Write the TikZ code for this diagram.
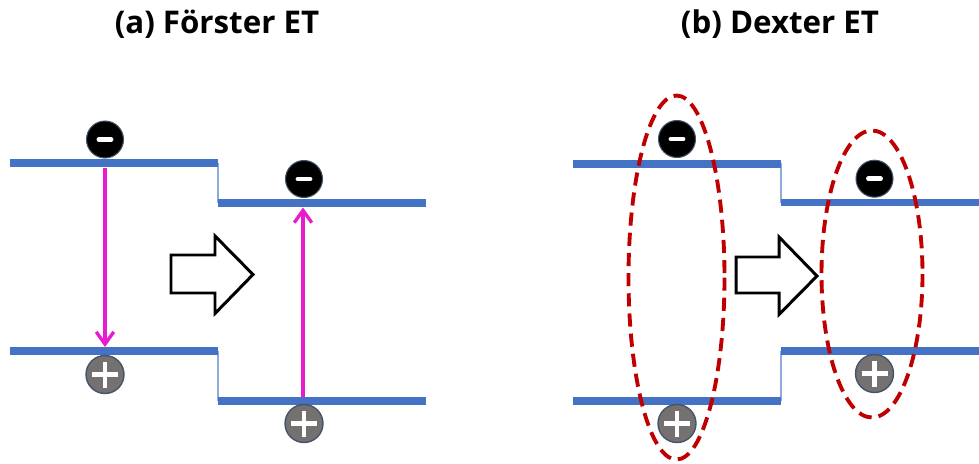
\documentclass[tikz,border=0pt]{standalone}
\usepackage{fontspec}
\setmainfont{Carlito}
\newfontfamily\headfont{Open Sans}
\usetikzlibrary{arrows.meta}
\definecolor{levelblue}{HTML}{4472C4}
\definecolor{steplight}{HTML}{8FAADC}
\definecolor{transmag}{HTML}{E81CCF}
\definecolor{pairred}{HTML}{C00000}
\definecolor{holegray}{HTML}{767171}
\definecolor{rimblue}{HTML}{44546A}
\tikzset{
  level/.style={levelblue, line width=4.5pt},
  stepline/.style={steplight, line width=0.6pt},
  electron/.style={circle, fill=black, draw=rimblue, line width=0.6pt,
    minimum size=0.74cm, inner sep=0pt,
    path picture={\draw[white, line width=2.8pt, line cap=round]
      ([xshift=-0.12cm]path picture bounding box.center) --
      ([xshift=0.12cm]path picture bounding box.center);}},
  hole/.style={circle, fill=holegray, draw=rimblue, line width=0.8pt,
    minimum size=0.76cm, inner sep=0pt,
    path picture={\draw[white, line width=2.3pt]
      ([xshift=-0.26cm]path picture bounding box.center) --
      ([xshift=0.26cm]path picture bounding box.center)
      ([yshift=-0.26cm]path picture bounding box.center) --
      ([yshift=0.26cm]path picture bounding box.center);}},
  transfer/.style={transmag, line width=1.9pt,
    -{Straight Barb[length=7pt, width=10pt, line width=1.9pt]}},
  blockarrow/.style={draw=black, fill=white, line width=1.7pt, line join=miter},
  pair/.style={draw=pairred, line width=2.2pt, dash pattern=on 7.5pt off 4pt},
  title/.style={font=\headfont\bfseries\fontsize{17.8}{21}\selectfont,
    inner sep=0pt, anchor=base}
}
\begin{document}
\begin{tikzpicture}[x=0.02cm, y=-0.02cm]
\useasboundingbox (0,0) rectangle (979,463);

% titles
\node[title] (ta) at (217,33) {(a) Förster ET};
\node[title] (tb) at (780,33) {(b) Dexter ET};

% ---------- (a) Foerster transfer ----------
\draw[stepline] (218,163) -- (218,203);
\draw[stepline] (218,351) -- (218,401);
\draw[level] (10,163.3) -- (218,163.3);
\draw[level] (218,203.3) -- (426,203.3);
\draw[level] (10,351.3) -- (218,351.3);
\draw[level] (218,401.3) -- (426,401.3);

\coordinate (a1top) at (105,167.5);
\coordinate (a1bot) at (105,347);
\coordinate (a2bot) at (303,396.5);
\coordinate (a2top) at (303,207.5);
\draw[transfer] (a1top) -- (a1bot);
\draw[transfer] (a2bot) -- (a2top);

\node[electron] (ea1) at (105,139.5) {};
\node[hole]     (ha1) at (105,374.5) {};
\node[electron] (ea2) at (304,179) {};
\node[hole]     (ha2) at (304,423.5) {};

\draw[blockarrow] (171,255) -- (215,255) -- (215,236) -- (253,274.5)
  -- (215,313.5) -- (215,293) -- (171,293) -- cycle;

% ---------- (b) Dexter transfer ----------
\draw[stepline] (781,163) -- (781,203);
\draw[stepline] (781,351) -- (781,401);
\draw[level] (573,163.7) -- (781,163.7);
\draw[level] (781,202.5) -- (979,202.5);
\draw[level] (573,401.3) -- (781,401.3);
\draw[level] (781,350.8) -- (979,350.8);

\node[electron] (eb1) at (677,139) {};
\node[hole]     (hb1) at (677,423.5) {};
\node[electron] (eb2) at (874.5,178.7) {};
\node[hole]     (hb2) at (874.5,373.5) {};

\draw[pair] (676.5,277.5) ellipse [x radius=48, y radius=182];
\draw[pair] (872,274) ellipse [x radius=50.5, y radius=143.5];

\draw[blockarrow] (736,257) -- (779,257) -- (779,237) -- (817,276)
  -- (779,314.5) -- (779,293) -- (736,293) -- cycle;
\end{tikzpicture}
\end{document}
